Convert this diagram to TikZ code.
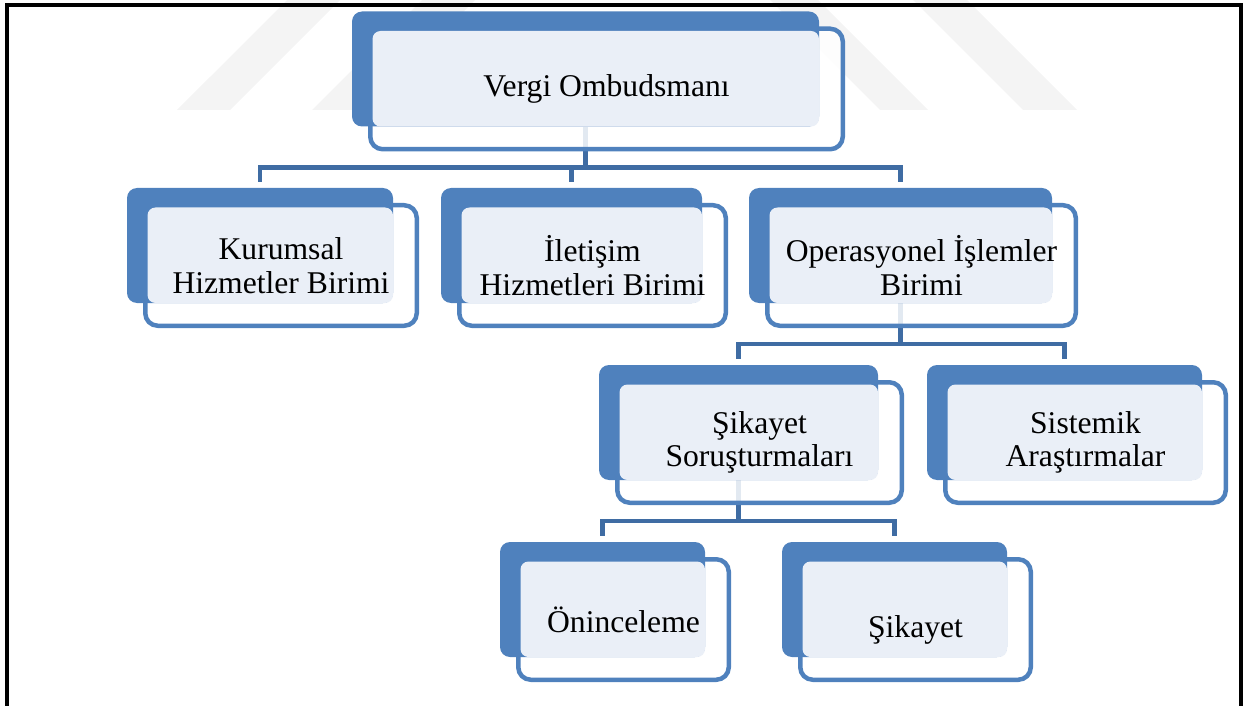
\documentclass[tikz,border=0pt]{standalone}
\usepackage{fontspec}
\setmainfont{Liberation Serif}
\usepackage{xcolor}
\usepackage{tikz}
\usetikzlibrary{positioning, backgrounds}
\definecolor{boxblue}{HTML}{4F81BD}
\definecolor{linkblue}{HTML}{3F6CA3}
\definecolor{paleblue}{HTML}{EAEFF7}
\definecolor{markgray}{HTML}{F4F4F4}
\tikzstyle{frontbox} = [rectangle, minimum height=2.41cm, draw=boxblue, line width=0.09cm, fill=white, fill opacity=0.85, rounded corners=0.25cm, inner sep=0pt]
\tikzstyle{backbox} = [rectangle, minimum height=2.3cm, fill=boxblue, rounded corners=0.2cm, inner sep=0pt]
\tikzstyle{palebox} = [rectangle, minimum height=1.91cm, fill=paleblue, rounded corners=0.16cm, inner sep=0pt]
\tikzstyle{unittext} = [align=center, inner sep=0pt, font=\fontsize{18}{19}\selectfont]
\tikzstyle{link} = [line width=0.09cm, draw=linkblue, shorten >=0.12cm]

\begin{document}
\begin{tikzpicture}
    \useasboundingbox (0,0) rectangle (24.94,-14.12);

    % Top unit
    \node[frontbox, minimum width=9.45cm] (vo) at (12.13, -1.78) {};
    \node[backbox, minimum width=9.34cm] (vob) at ([shift={(-0.42,0.40)}]vo) {};
    \node[palebox, minimum width=8.93cm] (vop) at ([shift={(-0.215,0.205)}]vo) {};
    \node[unittext] (vo-t) at (vo) {Vergi Ombudsmanı};

    % Second level
    \node[frontbox, minimum width=5.43cm] (kh) at (5.62, -5.31) {};
    \node[backbox, minimum width=5.32cm] (khb) at ([shift={(-0.42,0.40)}]kh) {};
    \node[palebox, minimum width=4.91cm] (khp) at ([shift={(-0.215,0.205)}]kh) {};
    \node[unittext] (kh-t) at (kh) {Kurumsal\\Hizmetler Birimi};

    \node[frontbox, minimum width=5.33cm] (ih) at (11.85, -5.31) {};
    \node[backbox, minimum width=5.22cm] (ihb) at ([shift={(-0.42,0.40)}]ih) {};
    \node[palebox, minimum width=4.81cm] (ihp) at ([shift={(-0.215,0.205)}]ih) {};
    \node[unittext] (ih-t) at (ih) {İletişim\\Hizmetleri Birimi};

    \node[frontbox, minimum width=6.17cm] (oi) at (18.43, -5.31) {};
    \node[backbox, minimum width=6.06cm] (oib) at ([shift={(-0.42,0.40)}]oi) {};
    \node[palebox, minimum width=5.65cm] (oip) at ([shift={(-0.215,0.205)}]oi) {};
    \node[unittext] (oi-t) at (oi) {Operasyonel İşlemler\\Birimi};

    % Third level
    \node[frontbox, minimum width=5.69cm] (ss) at (15.19, -8.85) {};
    \node[backbox, minimum width=5.58cm] (ssb) at ([shift={(-0.42,0.40)}]ss) {};
    \node[palebox, minimum width=5.17cm] (ssp) at ([shift={(-0.215,0.205)}]ss) {};
    \node[unittext] (ss-t) at (ss) {Şikayet\\Soruşturmaları};

    \node[frontbox, minimum width=5.61cm] (sa) at (21.71, -8.85) {};
    \node[backbox, minimum width=5.50cm] (sab) at ([shift={(-0.42,0.40)}]sa) {};
    \node[palebox, minimum width=5.09cm] (sap) at ([shift={(-0.215,0.205)}]sa) {};
    \node[unittext] (sa-t) at (sa) {Sistemik\\Araştırmalar};

    % Fourth level
    \node[frontbox, minimum width=4.21cm] (oin) at (12.47, -12.39) {};
    \node[backbox, minimum width=4.10cm] (oinb) at ([shift={(-0.42,0.40)}]oin) {};
    \node[palebox, minimum width=3.69cm] (oinp) at ([shift={(-0.215,0.205)}]oin) {};
    \node[unittext] (oin-t) at (oin) {Öninceleme};

    \node[frontbox, minimum width=4.61cm] (sk) at (18.31, -12.39) {};
    \node[backbox, minimum width=4.50cm] (skb) at ([shift={(-0.42,0.40)}]sk) {};
    \node[palebox, minimum width=4.09cm] (skp) at ([shift={(-0.215,0.205)}]sk) {};
    \node[unittext] (sk-t) at ([yshift=-0.2cm]sk) {Şikayet};

    % Page frame
    \draw[line width=0.08cm] (0.14,-14.12) -- (0.14,-0.106) -- (24.81,-0.106) -- (24.81,-14.12);

    \begin{scope}[on background layer]
        % Watermark
        \fill[markgray] (3.54,-2.2) -- (4.6,-2.2) -- (6.8,0) -- (5.74,0) -- cycle;
        \fill[markgray] (6.24,-2.2) -- (7.3,-2.2) -- (9.5,0) -- (8.44,0) -- cycle;
        \fill[markgray] (17.6,-2.2) -- (18.56,-2.2) -- (16.36,0) -- (15.4,0) -- cycle;
        \fill[markgray] (20.46,-2.2) -- (21.54,-2.2) -- (19.34,0) -- (18.26,0) -- cycle;

        % Connectors
        \draw[link] (vob.south) -- ++(0,-0.81) -| (khb.north);
        \draw[link] (vob.south) -- ++(0,-0.81) -| (ihb.north);
        \draw[link] (vob.south) -- ++(0,-0.81) -| (oib.north);
        \draw[link] (oib.south) -- ++(0,-0.81) -| (ssb.north);
        \draw[link] (oib.south) -- ++(0,-0.81) -| (sab.north);
        \draw[link] (ssb.south) -- ++(0,-0.81) -| (oinb.north);
        \draw[link] (ssb.south) -- ++(0,-0.81) -| (skb.north);
    \end{scope}
\end{tikzpicture}
\end{document}
